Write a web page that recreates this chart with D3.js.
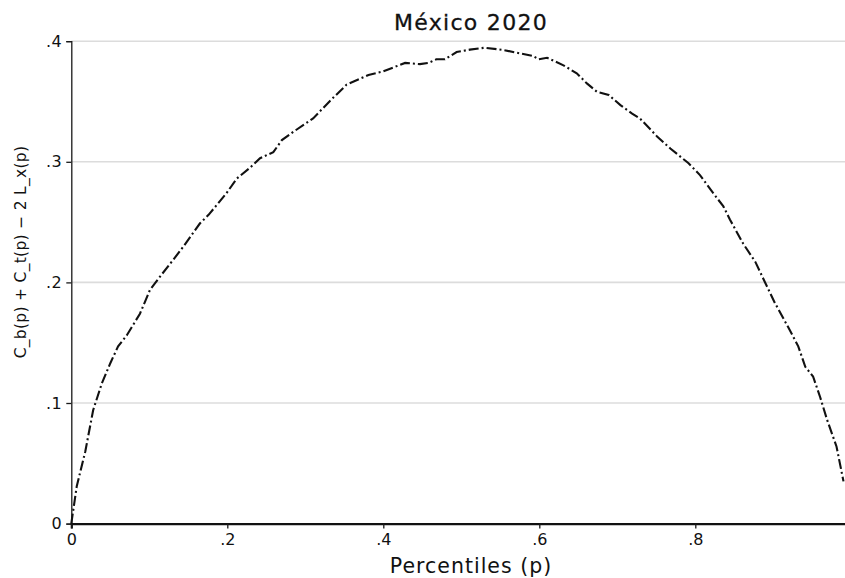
<!DOCTYPE html>
<html>
<head>
<meta charset="utf-8">
<script src="https://cdn.jsdelivr.net/npm/d3@7"></script>
<style>
  html, body { margin: 0; padding: 0; background: #fff; }
  svg { display: block; font-family: "DejaVu Sans", "Noto Sans", sans-serif; }
</style>
</head>
<body>
<svg id="chart" width="845" height="578"></svg>
<script>
// Percentile p and the curve C_b(p) + C_t(p) - 2 L_x(p), México 2020
const percentiles = [0, 0.007, 0.018, 0.028, 0.039, 0.050, 0.060, 0.071, 0.088, 0.101,
  0.114, 0.131, 0.144, 0.165, 0.176, 0.199, 0.212, 0.229, 0.242, 0.259,
  0.270, 0.285, 0.310, 0.334, 0.353, 0.381, 0.400, 0.428, 0.447, 0.458,
  0.468, 0.479, 0.494, 0.511, 0.530, 0.554, 0.571, 0.592, 0.599, 0.610,
  0.631, 0.648, 0.661, 0.674, 0.689, 0.704, 0.719, 0.729, 0.751, 0.768,
  0.791, 0.806, 0.823, 0.836, 0.8445, 0.8615, 0.877, 0.889, 0.902, 0.919,
  0.932, 0.941, 0.951, 0.960, 0.969, 0.981, 0.990];
const curveValues = [0, 0.031, 0.060, 0.094, 0.116, 0.133, 0.147, 0.156, 0.174, 0.194,
  0.205, 0.219, 0.230, 0.249, 0.256, 0.274, 0.286, 0.295, 0.303, 0.308,
  0.318, 0.325, 0.336, 0.352, 0.364, 0.372, 0.375, 0.382, 0.381, 0.382,
  0.385, 0.385, 0.391, 0.393, 0.3946, 0.3927, 0.3905, 0.3877, 0.385, 0.3863,
  0.380, 0.3734, 0.365, 0.358, 0.3554, 0.347, 0.340, 0.336, 0.321, 0.311,
  0.299, 0.289, 0.274, 0.263, 0.252, 0.232, 0.217, 0.2006, 0.183, 0.163,
  0.147, 0.130, 0.122, 0.105, 0.086, 0.064, 0.035];
const xTicks = [0, 0.2, 0.4, 0.6, 0.8];
const yTicks = [0, 0.1, 0.2, 0.3, 0.4];
const gridTicks = [0.1, 0.2, 0.3, 0.4];
const title = "México 2020";
const xTitle = "Percentiles (p)";
const yTitle = "C_b(p) + C_t(p) − 2 L_x(p)";

const svg = d3.select("#chart");
const W = 845;
const FONT = "'DejaVu Sans', 'Noto Sans', sans-serif";

const x = d3.scaleLinear().domain([0, 1]).range([71.3, 851.3]);
const y = d3.scaleLinear().domain([0, 0.4]).range([523.6, 41.2]);
const fmt = d => d === 0 ? "0" : d3.format(".1f")(d).replace(/^0/, "");

// horizontal grid
svg.append("g")
  .selectAll("line")
  .data(gridTicks)
  .join("line")
  .attr("x1", x(0)).attr("x2", W)
  .attr("y1", d => y(d)).attr("y2", d => y(d))
  .attr("stroke", "#dcdcdc")
  .attr("stroke-width", 1.6);

// y axis
const yAxis = svg.append("g")
  .attr("transform", `translate(${x(0)},0)`)
  .call(d3.axisLeft(y).tickValues(yTicks).tickFormat(fmt).tickSize(5).tickPadding(4));
yAxis.select(".domain").attr("stroke", "#1a1a1a").attr("stroke-width", 1.3);
yAxis.selectAll(".tick line").attr("stroke", "#1a1a1a").attr("stroke-width", 1.3);
yAxis.selectAll(".tick text").attr("font-size", 16).attr("fill", "#111")
  .attr("letter-spacing", 0.5).attr("font-family", FONT);

// x axis
const xAxis = svg.append("g")
  .attr("transform", `translate(0,${y(0)})`)
  .call(d3.axisBottom(x).tickValues(xTicks).tickFormat(fmt).tickSize(5).tickPadding(5));
xAxis.select(".domain").attr("stroke", "#111").attr("stroke-width", 2.2);
xAxis.selectAll(".tick line").attr("stroke", "#1a1a1a").attr("stroke-width", 1.3);
xAxis.selectAll(".tick text").attr("font-size", 16).attr("fill", "#111")
  .attr("font-family", FONT);

// curve
const pts = percentiles.map((p, i) => [p, curveValues[i]]);
svg.append("path")
  .datum(pts)
  .attr("fill", "none")
  .attr("stroke", "#111")
  .attr("stroke-width", 2.1)
  .attr("stroke-dasharray", "10,3,2,3")
  .attr("d", d3.line().x(d => x(d[0])).y(d => y(d[1])));

// titles
svg.append("text")
  .attr("x", 471).attr("y", 30)
  .attr("text-anchor", "middle")
  .attr("font-size", 22).attr("letter-spacing", 1.3).attr("fill", "#111")
  .attr("stroke", "#111").attr("stroke-width", 0.3)
  .text(title);

svg.append("text")
  .attr("x", 471).attr("y", 573)
  .attr("text-anchor", "middle")
  .attr("font-size", 20.5).attr("letter-spacing", 1).attr("fill", "#111")
  .text(xTitle);

svg.append("text")
  .attr("transform", "translate(26,252) rotate(-90)")
  .attr("text-anchor", "middle")
  .attr("font-size", 15.5).attr("letter-spacing", 0.3).attr("fill", "#111")
  .text(yTitle);
</script>
</body>
</html>
